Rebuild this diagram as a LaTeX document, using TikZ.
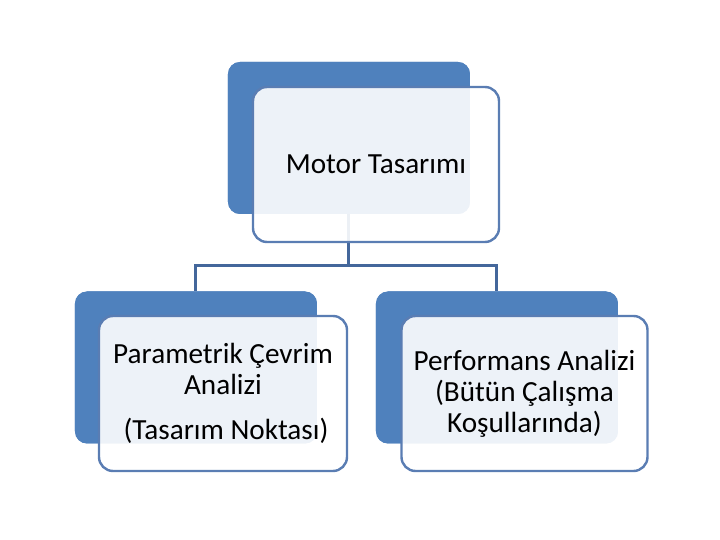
\documentclass[tikz,border=0pt]{standalone}
\usepackage{fontspec}
\setmainfont{Carlito}
\usepackage{tikz}
\usetikzlibrary{positioning}

\definecolor{backblue}{HTML}{4F81BD}
\definecolor{edgeblue}{HTML}{5A7DB3}
\definecolor{linkblue}{HTML}{44679B}

\begin{document}
\begin{tikzpicture}[
    x=0.5pt, y=-0.5pt,
    back/.style={
        fill=backblue,
        rectangle,
        rounded corners=6pt,
        minimum width=121pt,
        minimum height=76pt,
        inner sep=0pt
    },
    front/.style={
        draw=edgeblue,
        line width=1.2pt,
        fill=white,
        fill opacity=0.9,
        text opacity=1,
        rectangle,
        rounded corners=7pt,
        minimum width=123pt,
        minimum height=77.5pt,
        inner sep=0pt,
        align=center,
        font=\fontsize{14.6}{15.5}\selectfont
    },
    link/.style={draw=linkblue, line width=1.5pt}
]
\useasboundingbox (0,0) rectangle (720,540);

% connectors first, so the front boxes veil them
\node[back] (motorback) at (349,138) {};
\node[back] (paramback) at (196,367.5) {};
\node[back] (perfback) at (497,367.5) {};
\coordinate (split) at (349,266);
\draw[link] (motorback.south) -- (split);
\draw[link] (split) -| (paramback.north);
\draw[link] (split) -| (perfback.north);

% boxes
\node[back] at (motorback) {};
\node[front] (motor) at (376,164.5) {Motor Tasarımı};

\node[back] at (paramback) {};
\node[front, minimum width=124pt] (param) at (223,393.5) {
Parametrik Çevrim \\
Analizi \\[7pt]
\hspace{3pt}(Tasarım Noktası)
};

\node[back] at (perfback) {};
\node[front] (perf) at (524.5,393.5) {
Performans Analizi \\
(Bütün Çalışma \\
Koşullarında)
};

\end{tikzpicture}
\end{document}
